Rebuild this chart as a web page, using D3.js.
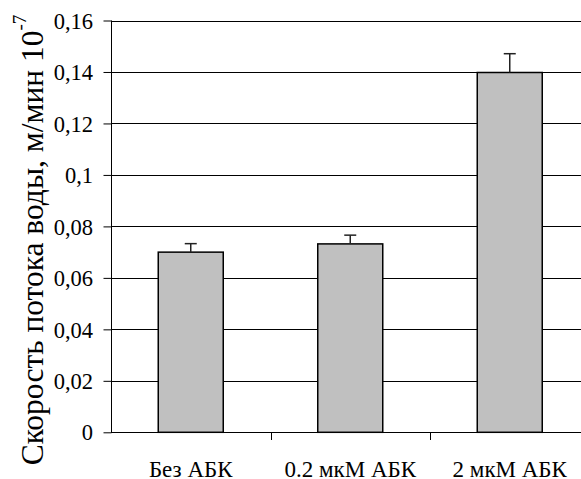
<!DOCTYPE html>
<html><head><meta charset="utf-8">
<script src="https://cdn.jsdelivr.net/npm/d3@7"></script>
<style>body{margin:0;background:#fff}svg{display:block}</style>
</head><body><svg id="c" width="581" height="479"></svg>
<script>
const categories = ["Без АБК", "0.2 мкМ АБК", "2 мкМ АБК"];
const values = [0.070, 0.0732, 0.1398];
const errors = [0.0033, 0.0034, 0.0073];
const yTicks = [0, 0.02, 0.04, 0.06, 0.08, 0.1, 0.12, 0.14, 0.16];
const yTickLabels = ["0", "0,02", "0,04", "0,06", "0,08", "0,1", "0,12", "0,14", "0,16"];

const FONT = "Liberation Serif";
const svg = d3.select("#c");
const L = 111, R = 589.5, T = 20.5, B = 432.3;
const x = d3.scaleBand().domain(categories).range([L, R]).paddingInner(0).paddingOuter(0);
const y = d3.scaleLinear().domain([0, 0.16]).range([B, T]);
const barW = 65;

svg.append("g").selectAll("line").data(yTicks.slice(1)).join("line")
  .attr("x1", L).attr("x2", 581).attr("y1", d => Math.round(y(d)) + 0.5).attr("y2", d => Math.round(y(d)) + 0.5)
  .attr("stroke", "#000").attr("stroke-width", 1);

const yAxis = d3.axisLeft(y).tickValues(yTicks).tickSize(8).tickFormat((d, i) => yTickLabels[i]);
const gy = svg.append("g").attr("transform", `translate(${L + 0.5},0)`).call(yAxis);
gy.attr("font-family", FONT).attr("font-size", 22.5);
gy.select(".domain").remove();
gy.selectAll(".tick line").attr("stroke", "#000");
gy.selectAll(".tick text").attr("x", -18.5).attr("dy", "0.34em").attr("fill", "#000");
svg.append("line").attr("x1", L + 0.5).attr("x2", L + 0.5).attr("y1", T).attr("y2", B + 0.5).attr("stroke", "#000");

const gx = svg.append("g").attr("transform", `translate(0,${Math.round(B) + 0.5})`)
  .call(d3.axisBottom(x).tickSize(0).tickPadding(0));
gx.attr("font-family", FONT).attr("font-size", 23);
gx.select(".domain").remove();
gx.selectAll(".tick text").attr("dy", null).attr("y", 44).attr("fill", "#000");
svg.append("line").attr("x1", L).attr("x2", 581).attr("y1", Math.round(B) + 0.5).attr("y2", Math.round(B) + 0.5).attr("stroke", "#000");
svg.append("g").selectAll("line").data(categories.slice(1)).join("line")
  .attr("x1", d => Math.round(x(d)) + 0.5).attr("x2", d => Math.round(x(d)) + 0.5)
  .attr("y1", Math.round(B)).attr("y2", Math.round(B) + 8).attr("stroke", "#000");

const cx = d => x(d) + x.bandwidth() / 2;
svg.append("g").selectAll("rect").data(values).join("rect")
  .attr("x", (d, i) => cx(categories[i]) - barW / 2)
  .attr("y", d => y(d)).attr("width", barW).attr("height", d => B - y(d))
  .attr("fill", "#c0c0c0").attr("stroke", "#000").attr("stroke-width", 1.5);

const eg = svg.append("g").attr("stroke", "#222").attr("stroke-width", 1.5);
values.forEach((v, i) => {
  const c = cx(categories[i]);
  eg.append("line").attr("x1", c).attr("x2", c).attr("y1", y(v)).attr("y2", y(v + errors[i]));
  eg.append("line").attr("x1", c - 6).attr("x2", c + 6).attr("y1", y(v + errors[i])).attr("y2", y(v + errors[i]));
});

const yl = svg.append("text").attr("transform", `translate(43,${(15 + 465) / 2}) rotate(-90)`)
  .attr("text-anchor", "middle").attr("font-size", 31.5).attr("font-family", FONT).attr("fill", "#000");
yl.append("tspan").text("Скорость потока воды, м/мин 10");
yl.append("tspan").attr("font-size", 19).attr("dy", -17).text("-7");
</script></body></html>
